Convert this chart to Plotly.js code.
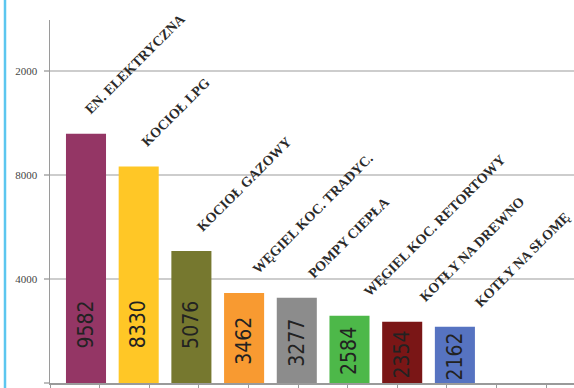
<!DOCTYPE html>
<html>
<head>
<meta charset="utf-8">
<script src="https://cdn.plot.ly/plotly-3.0.1.min.js"></script>
<style>html,body{margin:0;padding:0;background:#fff;}#chart{width:574px;height:388px;}</style>
</head>
<body>
<div id="chart"></div>
<script>
const categories = ["EN. ELEKTRYCZNA", "KOCIOŁ LPG", "KOCIOŁ GAZOWY", "WĘGIEL KOC. TRADYC.", "POMPY CIEPŁA", "WĘGIEL KOC. RETORTOWY", "KOTŁY NA DREWNO", "KOTŁY NA SŁOMĘ"];
const values = [9582, 8330, 5076, 3462, 3277, 2584, 2354, 2162];
const colors = ["#943665", "#FFC726", "#76782F", "#F89A31", "#8C8C8C", "#4DB849", "#7A1616", "#5673C1"];
const tickValues = [0, 4000, 8000, 12000];
const tickLabels = ["", "4000", "8000", "2000"];

const bars = {
  type: "bar",
  x: categories,
  y: values,
  width: 0.76,
  marker: {color: colors, line: {width: 0}},
  hoverinfo: "skip"
};
const tickHolder = {
  type: "scatter", mode: "none",
  x: [], y: [],
  xaxis: "x2", yaxis: "y",
  hoverinfo: "skip", showlegend: false
};

const annotations = [];
categories.forEach((c, i) => {
  annotations.push({
    x: c, y: values[i], xref: "x", yref: "y",
    text: c, showarrow: false, textangle: -45,
    xanchor: "left", yanchor: "bottom",
    xshift: -6 + 3 * i, yshift: 14,
    font: {family: "Liberation Serif, serif", size: 14, color: "#2a2a2a", weight: "bold"}
  });
  annotations.push({
    x: c, y: Math.min(values[i] * 0.47, 2250), xref: "x", yref: "y",
    text: String(values[i]), showarrow: false, textangle: -90,
    xanchor: "center", yanchor: "middle",
    font: {family: "Liberation Sans Narrow, DejaVu Sans Condensed, sans-serif", size: 21, color: "#222"}
  });
});

const layout = {
  width: 574, height: 388,
  margin: {l: 50, r: 0, t: 20, b: 5, pad: 0},
  paper_bgcolor: "#fff", plot_bgcolor: "#fff",
  showlegend: false,
  xaxis: {
    type: "category",
    range: [-0.683, 9.26],
    showline: true, linecolor: "#9a9a9a", linewidth: 1.5,
    ticks: "",
    showticklabels: false, showgrid: false, zeroline: false, fixedrange: true
  },
  xaxis2: {
    overlaying: "x", side: "bottom",
    range: [0, 10.56], tickmode: "linear", tick0: 0, dtick: 1,
    ticks: "outside", ticklen: 5, tickcolor: "#9a9a9a", tickwidth: 1,
    showline: false, showticklabels: false, showgrid: false, zeroline: false, fixedrange: true
  },
  yaxis: {
    range: [0, 13960],
    tickmode: "array", tickvals: tickValues, ticktext: tickLabels,
    showline: true, linecolor: "#9a9a9a", linewidth: 1.5,
    ticks: "outside", ticklen: 5, tickcolor: "#bdbdbd", tickwidth: 1.5,
    ticklabelstandoff: 4,
    showgrid: true, gridcolor: "#cdcdcd", gridwidth: 2, zeroline: false,
    tickfont: {family: "Liberation Serif, serif", size: 11, color: "#444"},
    fixedrange: true
  },
  annotations: annotations,
  shapes: [{
    type: "line", xref: "paper", yref: "paper",
    x0: -45 / 524, x1: -45 / 524, y0: -0.02, y1: 1.06,
    line: {color: "#5cc6ef", width: 2.5}
  }]
};

Plotly.newPlot("chart", [bars, tickHolder], layout, {displayModeBar: false, staticPlot: true});
</script>
</body>
</html>
